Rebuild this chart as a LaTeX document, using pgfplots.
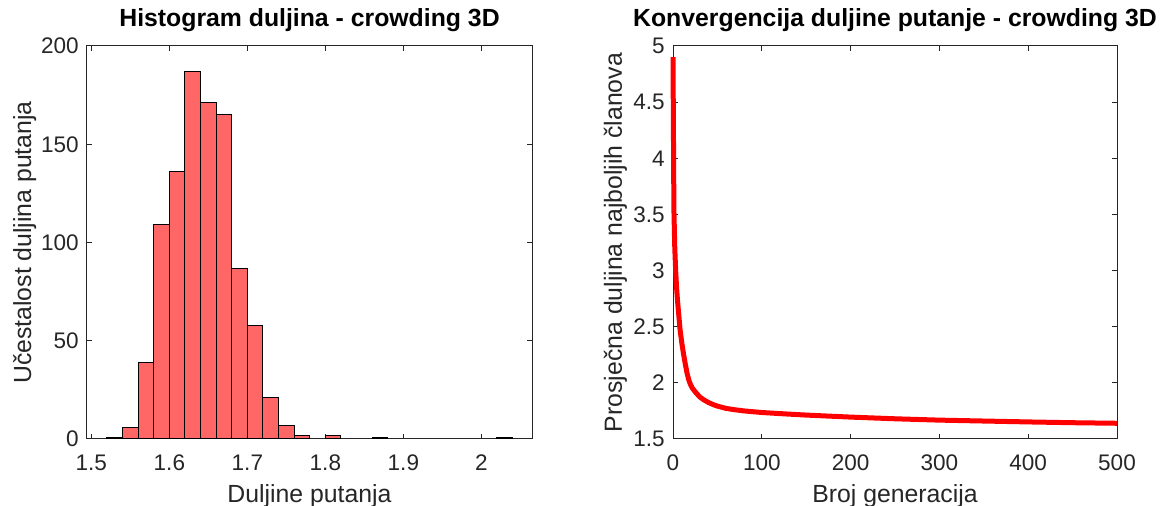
\documentclass[border=0pt]{standalone}
\usepackage{fontspec}
\setmainfont{Liberation Sans}
\usepackage{pgfplots}
\pgfplotsset{compat=1.18}
\definecolor{axgray}{rgb}{0.15,0.15,0.15}
\definecolor{barred}{rgb}{1,0.4,0.4}

\pgfplotsset{
  mlab/.style={
    scale only axis,
    tick align=inside,
    xtick pos=both, ytick pos=both,
    xticklabel pos=lower, yticklabel pos=left,
    axis line style={axgray, line width=0.75pt},
    every tick/.style={axgray, line width=0.75pt},
    major tick length=3.5pt,
    minor tick num=0,
    /pgf/number format/assume math mode=true,
    ticklabel style={font=\fontsize{16.9}{20}\selectfont, text=axgray},
    xticklabel style={anchor=base, yshift=-23.5pt},
    yticklabel style={anchor=east, inner xsep=0pt, xshift=-6pt},
    xlabel style={font=\fontsize{18.6}{22}\selectfont, text=axgray, at={(axis description cs:0.5,-0.1628)}, anchor=base},
    title style={font=\bfseries\fontsize{18.6}{22}\selectfont, text=black, at={(axis description cs:0.5,1.028)}, anchor=base},
  }
}

\begin{document}
\begin{tikzpicture}[x=1pt,y=1pt]
\useasboundingbox (0,0) rectangle (870,379.5);

\begin{axis}[mlab,
  at={(65.25pt,50.25pt)}, anchor=south west,
  width=333.75pt, height=294.75pt,
  xmin=1.4944, xmax=2.0649, ymin=0, ymax=200,
  xtick={1.5,1.6,1.7,1.8,1.9,2},
  xticklabels={1.5,1.6,1.7,1.8,1.9,2},
  ytick={0,50,100,150,200},
  ylabel style={font=\fontsize{18.6}{22}\selectfont, text=axgray, at={(axis description cs:-0.1258,0.5)}, anchor=base, rotate=0},
  title={Histogram duljina - crowding 3D},
  xlabel={Duljine putanja},
  ylabel={Učestalost duljina putanja},
]
\addplot[ybar interval, fill=barred, draw=black, line width=0.75pt] coordinates {
  (1.52,1) (1.54,6) (1.56,39) (1.58,109) (1.60,136) (1.62,187) (1.64,171)
  (1.66,165) (1.68,87) (1.70,58) (1.72,21) (1.74,7) (1.76,2) (1.78,2)
};
\addplot[ybar interval, fill=barred, draw=black, line width=0.75pt] coordinates {
  (1.80,2) (1.82,2)
};
\addplot[ybar interval, fill=barred, draw=black, line width=0.75pt] coordinates {
  (1.86,1) (1.88,1)
};
\addplot[ybar interval, fill=barred, draw=black, line width=0.75pt] coordinates {
  (2.02,1) (2.04,1)
};
\end{axis}

\begin{axis}[mlab,
  at={(504.75pt,50.25pt)}, anchor=south west,
  width=333pt, height=294.75pt,
  xmin=0, xmax=500, ymin=1.5, ymax=5,
  xtick={0,100,200,300,400,500},
  ytick={1.5,2,2.5,3,3.5,4,4.5,5},
  yticklabels={1.5,2,2.5,3,3.5,4,4.5,5},
  clip=false,
  ylabel style={font=\fontsize{18.6}{22}\selectfont, text=axgray, at={(axis description cs:-0.1149,0.5)}, anchor=base, rotate=0},
  title={Konvergencija duljine putanje - crowding 3D},
  xlabel={Broj generacija},
  ylabel={Prosječna duljina najboljih članova},
]
\addplot[red, line width=3.75pt, line join=round] coordinates {
  (0,4.9) (1,3.55) (2,3.2) (3,3.0) (4,2.85) (5,2.74) (6,2.65) (7,2.56)
  (8,2.47) (10,2.35) (12,2.25) (14,2.16) (16,2.08) (18,2.02) (20,1.98)
  (22,1.95) (25,1.92) (30,1.875) (35,1.847) (40,1.825) (45,1.807) (50,1.793)
  (60,1.772) (70,1.76) (80,1.75) (90,1.743) (100,1.736) (125,1.724)
  (150,1.713) (175,1.704) (200,1.695) (250,1.68) (300,1.668) (350,1.66)
  (400,1.652) (450,1.645) (500,1.64)
};
\end{axis}
\end{tikzpicture}
\end{document}
